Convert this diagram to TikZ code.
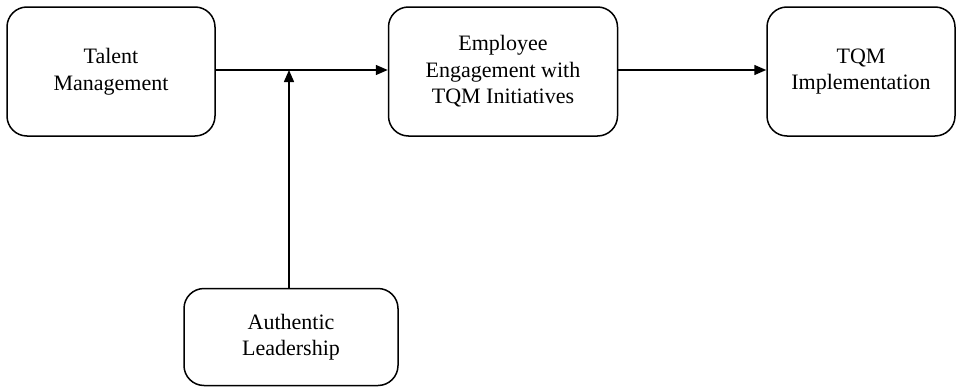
\documentclass[tikz,border=0pt]{standalone}
\usepackage{fontspec}
\setmainfont{Liberation Serif}
\usetikzlibrary{arrows.meta}
\begin{document}
\begin{tikzpicture}[x=1pt,y=-1pt,
  box/.style={draw,line width=1.5pt,rounded corners=20pt,align=center,
    font=\fontsize{22}{26.5}\selectfont,inner sep=0pt},
  link/.style={line width=1.5pt,-{Triangle[length=12pt,width=10pt]}}]
  \useasboundingbox (0,0) rectangle (959,388);
  % boxes
  \node[box,minimum width=208pt,minimum height=129pt] (tm)  at (111,71.5) {Talent\\Management};
  \node[box,minimum width=229pt,minimum height=129pt] (ee)  at (503,71.5) {Employee\\Engagement with\\TQM Initiatives};
  \node[box,minimum width=188pt,minimum height=129pt] (tqm) at (861,71.5) {TQM\\Implementation};
  \node[box,minimum width=214pt,minimum height=97pt]  (al)  at (291,337) {Authentic\\Leadership};
  \coordinate (jn) at (289,70);
  % connectors
  \draw[link] (tm.east |- jn) -- (ee.west |- jn);
  \draw[link] (ee.east |- jn) -- (tqm.west |- jn);
  \draw[link] (al.north -| jn) -- (jn);
\end{tikzpicture}
\end{document}
